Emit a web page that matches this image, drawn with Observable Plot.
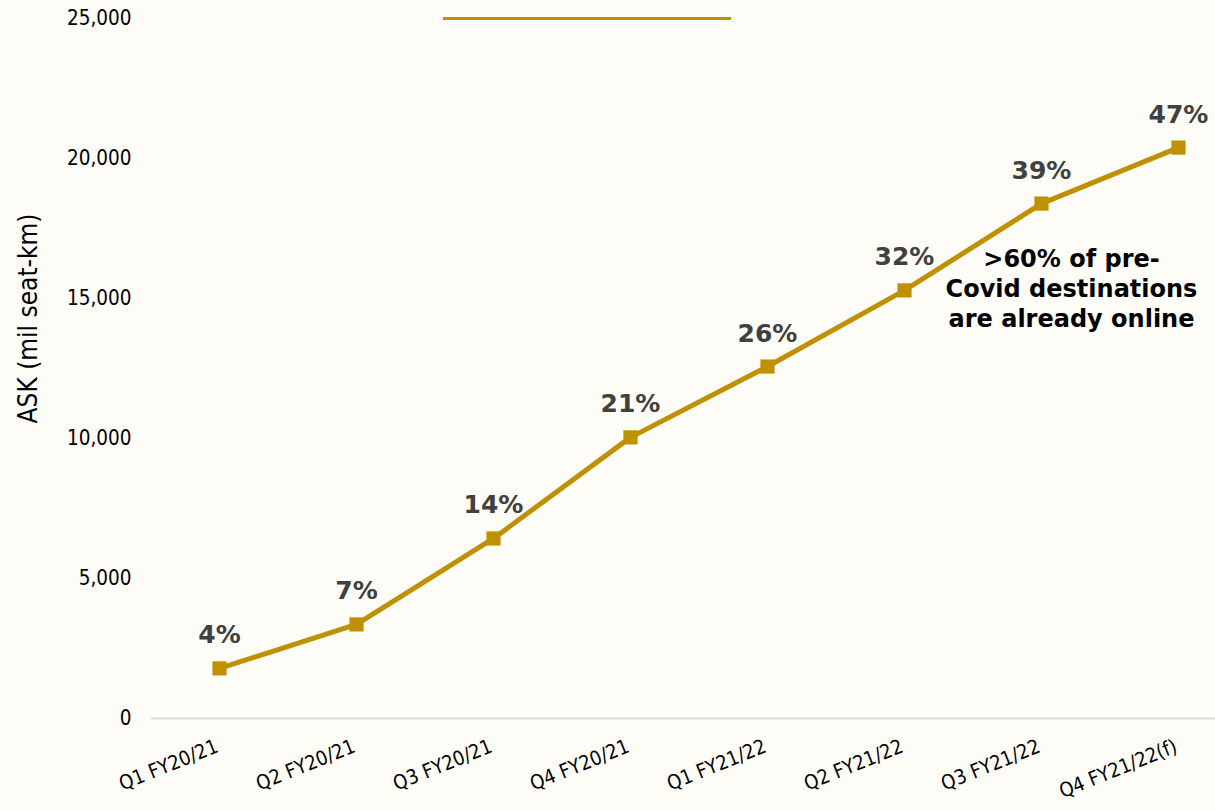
<!DOCTYPE html>
<html>
<head>
<meta charset="utf-8">
<script src="https://cdn.jsdelivr.net/npm/d3@7"></script>
<script src="https://cdn.jsdelivr.net/npm/@observablehq/plot@0.6"></script>
<style>
  html, body { margin: 0; padding: 0; background: #FFFDF7; }
  #wrap { position: relative; width: 1215px; height: 811px; }
  #legendLine { position: absolute; left: 443px; top: 17px; width: 288px; height: 3px; background: #BF9000; }
</style>
</head>
<body>
<div id="wrap"><div id="legendLine"></div></div>
<script>
const categories = ["Q1 FY20/21", "Q2 FY20/21", "Q3 FY20/21", "Q4 FY20/21", "Q1 FY21/22", "Q2 FY21/22", "Q3 FY21/22", "Q4 FY21/22(f)"];
const askValues = [1790, 3360, 6430, 10040, 12570, 15290, 18390, 20390];
const shareLabels = ["4%", "7%", "14%", "21%", "26%", "32%", "39%", "47%"];
const yTicks = [0, 5000, 10000, 15000, 20000, 25000];
const yTitle = "ASK (mil seat-km)";
const noteText = ">60% of pre-\nCovid destinations\nare already online";
const noteCategory = "Q3 FY21/22";
const noteValue = 15400;

const data = categories.map((c, i) => ({ q: c, v: askValues[i], s: shareLabels[i] }));
const font = "'DejaVu Sans Condensed', 'DejaVu Sans', sans-serif";
const boldFont = "'DejaVu Sans', sans-serif";
const gold = "#BF9000";

const chart = Plot.plot({
  width: 1215,
  height: 811,
  marginTop: 18,
  marginBottom: 93,
  marginLeft: 151,
  marginRight: 0,
  style: { background: "transparent", fontFamily: font, color: "#000", overflow: "visible" },
  x: { type: "point", domain: categories, range: [219, 1178], padding: 0, axis: null, label: null },
  y: { domain: [0, 25000], axis: null, label: null },
  marks: [
    Plot.ruleY([0], { stroke: "#D9D9D9", strokeWidth: 2 }),
    // y tick labels
    Plot.text(yTicks, { y: d => d, text: d => d3.format(",")(d), frameAnchor: "left", textAnchor: "end", dx: -20, fontSize: 20.5, fontFamily: font, fill: "#000" }),
    // x tick labels
    Plot.text(categories, { x: d => d, text: d => d, frameAnchor: "bottom", textAnchor: "end", rotate: -22, dy: 33, fontSize: 20, fontFamily: font, fill: "#000" }),
    Plot.text([yTitle], { frameAnchor: "left", textAnchor: "middle", rotate: -90, dx: -123, dy: -50, fontSize: 26, fontFamily: font, fill: "#000" }),
    Plot.line(data, { x: "q", y: "v", stroke: gold, strokeWidth: 5 }),
    Plot.dot(data, { x: "q", y: "v", symbol: "square", r: 8, fill: gold, stroke: "none" }),
    Plot.text(data, { x: "q", y: "v", text: "s", dy: -33, fontSize: 25, fontWeight: "bold", fontFamily: boldFont, fill: "#404040" }),
    Plot.text([noteText], { x: () => noteCategory, y: () => noteValue, dx: 30, fontSize: 24, fontWeight: "bold", fontFamily: boldFont, fill: "#000", lineHeight: 1.25 })
  ]
});
document.getElementById("wrap").appendChild(chart);
chart.style.position = "absolute";
chart.style.left = "0px";
chart.style.top = "0px";
</script>
</body>
</html>
